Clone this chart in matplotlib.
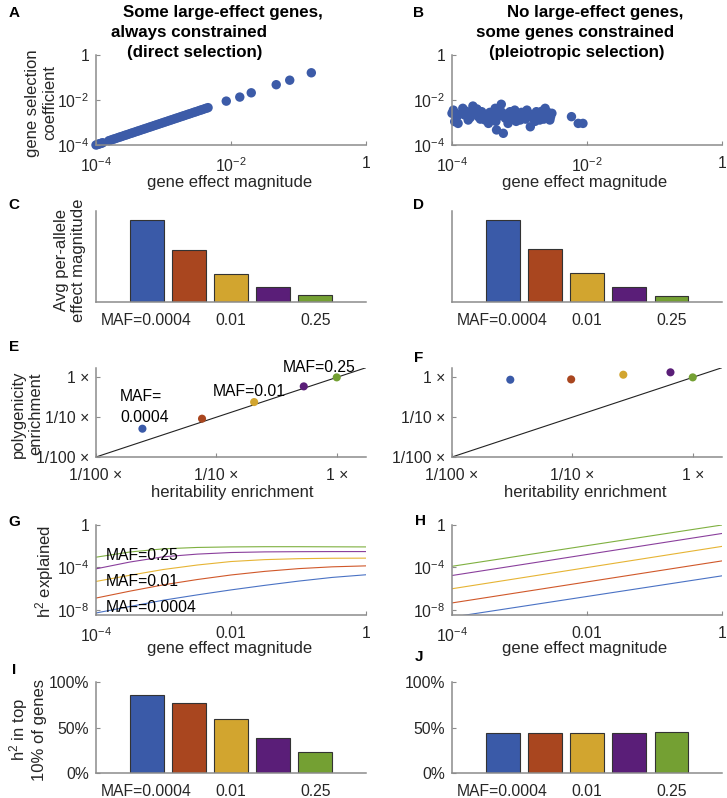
import numpy as np
import matplotlib
matplotlib.use("Agg")
import matplotlib.pyplot as plt

# ---- data ----
maf_labels = ["MAF=0.0004", "", "0.01", "", "0.25"]
bar_colors = ["#3a5aa8", "#a9461f", "#d2a52f", "#5a1e78", "#74a033"]
line_colors = ["#4a72c4", "#d0582a", "#e6b434", "#8a3f9c", "#7fb040"]

# A: direct selection, log10 values
effect_A_log = [-4.00, -3.98, -3.96, -3.94, -3.92, -3.90,
                -3.81, -3.78, -3.75, -3.72, -3.69, -3.66, -3.63, -3.60, -3.57, -3.54,
                -3.51, -3.48, -3.45, -3.42, -3.39, -3.36, -3.33, -3.30, -3.27, -3.24,
                -3.21, -3.18, -3.15, -3.12, -3.09, -3.06, -3.03, -3.00, -2.97, -2.94,
                -2.91, -2.88, -2.85, -2.82, -2.79, -2.76, -2.73, -2.70, -2.67, -2.64,
                -2.61, -2.58, -2.55, -2.52, -2.49, -2.46, -2.43, -2.40, -2.37, -2.34,
                -2.07, -1.87, -1.70, -1.33, -1.13, -0.81]
sel_A_log = [-4.00, -3.98, -3.96, -3.94, -3.92, -3.90,
             -3.81, -3.78, -3.75, -3.72, -3.69, -3.66, -3.63, -3.60, -3.57, -3.54,
             -3.51, -3.48, -3.45, -3.42, -3.39, -3.36, -3.33, -3.30, -3.27, -3.24,
             -3.21, -3.18, -3.15, -3.12, -3.09, -3.06, -3.03, -3.00, -2.97, -2.94,
             -2.91, -2.88, -2.85, -2.82, -2.79, -2.76, -2.73, -2.70, -2.67, -2.64,
             -2.61, -2.58, -2.55, -2.52, -2.49, -2.46, -2.43, -2.40, -2.37, -2.34,
             -2.05, -1.87, -1.68, -1.32, -1.12, -0.79]

# B: pleiotropic selection, log10 values
effect_B_log = [-4.00, -3.96, -3.91, -3.84, -3.81, -3.76, -3.69, -3.66, -3.61, -3.56,
                -3.51, -3.46, -3.41, -3.36, -3.34, -3.29, -3.27, -3.24, -3.21, -3.17,
                -3.14, -3.09, -3.04, -2.99, -2.94, -2.87, -2.84, -2.80, -2.75, -2.70,
                -2.62, -2.60, -2.55, -2.52, -2.23, -2.13, -2.06,
                -3.98, -3.93, -3.88, -3.79, -3.73, -3.71, -3.63, -3.58, -3.53, -3.48,
                -3.44, -3.39, -3.31, -3.26, -3.19, -3.12, -3.07, -3.02, -2.97, -2.91,
                -2.89, -2.83, -2.77, -2.72, -2.67, -2.64, -2.58, -2.54, -3.35, -3.05]
sel_B_log = [-2.59, -2.96, -3.04, -2.37, -2.67, -2.89, -2.27, -2.59, -2.74, -2.52,
             -2.89, -3.04, -2.67, -2.37, -3.33, -2.59, -2.19, -3.48, -2.81, -3.04,
             -2.52, -2.74, -2.59, -2.89, -2.74, -2.59, -3.19, -2.81, -2.52, -2.89,
             -2.37, -2.67, -2.89, -2.59, -2.74, -3.04, -3.04,
             -2.45, -2.75, -2.62, -2.50, -2.78, -2.55, -2.40, -2.85, -2.65, -2.78,
             -2.55, -2.85, -2.72, -2.55, -2.65, -2.85, -2.45, -2.72, -2.55, -2.85,
             -2.45, -2.65, -2.95, -2.72, -2.50, -2.85, -2.55, -2.75, -2.95, -2.95]

# C, D: average per-allele effect magnitude (relative)
avg_effect_C = [0.905, 0.575, 0.311, 0.168, 0.080]
avg_effect_D = [0.905, 0.586, 0.319, 0.161, 0.062]

# E, F: enrichment
h2_enrich_E = [0.0243, 0.076, 0.206, 0.532, 1.0]
poly_enrich_E = [0.0514, 0.0917, 0.240, 0.594, 1.0]
h2_enrich_F = [0.0305, 0.0977, 0.265, 0.653, 1.0]
poly_enrich_F = [0.873, 0.890, 1.167, 1.340, 1.0]
diag_ref = [0.01, 1.75]

# G, H: h2 explained vs gene effect magnitude (log10)
curve_x_G = [-4.0, -3.5, -3.0, -2.5, -2.0, -1.5, -1.0, -0.5, 0.0]
curves_G = [
    [-8.31, -7.70, -7.10, -6.60, -6.13, -5.70, -5.30, -4.95, -4.70],
    [-6.90, -6.25, -5.65, -5.15, -4.72, -4.38, -4.12, -3.95, -3.86],
    [-5.33, -4.75, -4.20, -3.78, -3.45, -3.27, -3.18, -3.14, -3.13],
    [-4.14, -3.50, -3.00, -2.75, -2.60, -2.54, -2.52, -2.51, -2.51],
    [-3.04, -2.55, -2.25, -2.12, -2.07, -2.05, -2.05, -2.06, -2.07],
]
curve_x_H = [-4.0, 0.0]
curves_H = [
    [-8.70, -4.80],
    [-7.36, -3.39],
    [-6.02, -2.02],
    [-4.77, -0.80],
    [-3.90, 0.00],
]

# I, J: fraction of h2 in top 10% of genes
top10_I = [0.853, 0.773, 0.597, 0.388, 0.231]
top10_J = [0.435, 0.435, 0.435, 0.439, 0.446]

# ---- style ----
W, H = 727, 798
plt.rcParams["font.family"] = ["Liberation Sans", "DejaVu Sans"]
plt.rcParams["mathtext.fontset"] = "custom"
plt.rcParams["mathtext.rm"] = "Liberation Sans"
plt.rcParams["mathtext.default"] = "regular"
TXT = "#262626"
SPINE = "#8c8c8c"
TICK_FS = 11.3
LAB_FS = 12

fig = plt.figure(figsize=(W / 100, H / 100), dpi=100)


def rect(l, r, t, b):
    return [l / W, 1 - b / H, (r - l) / W, (b - t) / H]


def ftext(x, y, s, **kw):
    fig.text(x / W, 1 - y / H, s, va="center", color=kw.pop("color", TXT), **kw)


def style(ax):
    for side in ["top", "right"]:
        ax.spines[side].set_visible(False)
    for side in ["left", "bottom"]:
        ax.spines[side].set_color(SPINE)
        ax.spines[side].set_linewidth(1.1)
    ax.tick_params(direction="in", length=3, width=0.8, color=SPINE,
                   labelsize=TICK_FS, labelcolor=TXT, pad=5)
    ax.tick_params(axis="x", pad=8)
    ax.minorticks_off()


x_pos = np.arange(1, 6)

# A / B scatter
for l, r, ex, sy in [(96, 366, effect_A_log, sel_A_log), (452, 722, effect_B_log, sel_B_log)]:
    ax = fig.add_axes(rect(l, r, 55, 145))
    ax.scatter(10 ** np.array(ex), 10 ** np.array(sy), s=46, color="#3c5ba8",
               edgecolors="none", clip_on=False)
    ax.set_xscale("log")
    ax.set_yscale("log")
    ax.set_xlim(1e-4, 1)
    ax.set_ylim(1e-4, 1)
    style(ax)
    ax.set_xticks([1e-4, 1e-2, 1])
    ax.set_xticklabels([r"$10^{-4}$", r"$10^{-2}$", "1"])
    ax.set_yticks([1e-4, 1e-2, 1])
    ax.set_yticklabels([r"$10^{-4}$", r"$10^{-2}$", "1"])
    ax.minorticks_off()

# C / D bars
for l, r, vals in [(96, 366, avg_effect_C), (452, 722, avg_effect_D)]:
    ax = fig.add_axes(rect(l, r, 211, 302))
    ax.bar(x_pos, vals, width=0.8, color=bar_colors, edgecolor="#333333", linewidth=0.8)
    ax.set_xlim(-0.2, 6.2)
    ax.set_ylim(0, 1)
    style(ax)
    ax.set_xticks(x_pos)
    ax.set_xticklabels(maf_labels)
    ax.set_yticks([])
    ax.tick_params(axis="x", length=0, pad=8)

# E / F enrichment
for l, r, hx, py in [(96, 366, h2_enrich_E, poly_enrich_E), (452, 722, h2_enrich_F, poly_enrich_F)]:
    ax = fig.add_axes(rect(l, r, 368, 457))
    ax.plot(diag_ref, diag_ref, color="#222222", lw=0.8)
    ax.scatter(hx, py, s=34, color=bar_colors, edgecolors="none", zorder=3, clip_on=False)
    ax.set_xscale("log")
    ax.set_yscale("log")
    ax.set_xlim(0.01, 1.75)
    ax.set_ylim(0.01, 1.72)
    style(ax)
    enr = ["1/100 \u00d7", "1/10 \u00d7", "1 \u00d7"]
    ax.set_xticks([0.01, 0.1, 1])
    ax.set_xticklabels(enr)
    ax.set_yticks([0.01, 0.1, 1])
    ax.set_yticklabels(enr)
    ax.minorticks_off()

# G / H curves
for l, r, cx, curves in [(96, 366, curve_x_G, curves_G), (452, 722, curve_x_H, curves_H)]:
    ax = fig.add_axes(rect(l, r, 525, 615))
    for c, col in zip(curves, line_colors):
        ax.plot(10 ** np.array(cx), 10 ** np.array(c), color=col, lw=0.8)
    ax.set_xscale("log")
    ax.set_yscale("log")
    ax.set_xlim(1e-4, 1)
    ax.set_ylim(10 ** -8.5, 1)
    style(ax)
    ax.set_xticks([1e-4, 1e-2, 1])
    ax.set_xticklabels([r"$10^{-4}$", "0.01", "1"])
    ax.set_yticks([1e-8, 1e-4, 1])
    ax.set_yticklabels([r"$10^{-8}$", r"$10^{-4}$", "1"])
    ax.minorticks_off()

# I / J bars
for l, r, vals in [(96, 366, top10_I), (452, 722, top10_J)]:
    ax = fig.add_axes(rect(l, r, 682, 773))
    ax.bar(x_pos, vals, width=0.8, color=bar_colors, edgecolor="#333333", linewidth=0.8)
    ax.set_xlim(-0.2, 6.2)
    ax.set_ylim(0, 1)
    style(ax)
    ax.set_xticks(x_pos)
    ax.set_xticklabels(maf_labels)
    ax.tick_params(axis="x", length=0, pad=8)
    ax.set_yticks([0, 0.5, 1])
    ax.set_yticklabels(["0%", "50%", "100%"])

# ---- titles, labels, panel letters ----
tkw = dict(ha="center", fontsize=12.2, fontweight="bold", color="black")
ftext(223, 13, "Some large-effect genes,", **tkw)
ftext(189, 33, "always constrained", **tkw)
ftext(195, 53, "(direct selection)", **tkw)
ftext(595, 13, "No large-effect genes,", **tkw)
ftext(575, 33, "some genes constrained", **tkw)
ftext(577, 53, "(pleiotropic selection)", **tkw)

for x, y in [(230, 182), (585, 182), (230, 649), (585, 649)]:
    ftext(x, y, "gene effect magnitude", ha="center", fontsize=LAB_FS)
for x, y in [(232, 492), (585, 492)]:
    ftext(x, y, "heritability enrichment", ha="center", fontsize=LAB_FS)

ykw = dict(ha="center", rotation=90, fontsize=LAB_FS, linespacing=1.15)
ftext(41, 103, "gene selection\ncoefficient", **ykw)
ftext(70, 260, "Avg per-allele\neffect magnitude", **ykw)
ftext(27, 414, "polygenicity\nenrichment", **ykw)
ftext(45, 571, "h$^2$ explained", **ykw)
ftext(27, 730, "h$^2$ in top\n10% of genes", **ykw)

# annotations in E and G
akw = dict(ha="left", fontsize=TICK_FS, color="black")
ftext(120, 407, "MAF=\n0.0004", linespacing=1.5, **akw)
ftext(213, 392, "MAF=0.01", **akw)
ftext(283, 368, "MAF=0.25", **akw)
ftext(106, 555, "MAF=0.25", **akw)
ftext(106, 582, "MAF=0.01", **akw)
ftext(106, 607, "MAF=0.0004", **akw)

lkw = dict(ha="center", fontsize=11, fontweight="bold", color="black")
for s, x, y in [("A", 14, 13), ("B", 419, 13), ("C", 14, 205), ("D", 419, 205),
                ("E", 14, 347), ("F", 419, 358), ("G", 14, 522), ("H", 420, 521),
                ("I", 14, 670), ("J", 419, 657)]:
    ftext(x, y, s, **lkw)

fig.savefig("out.png", dpi=100)
